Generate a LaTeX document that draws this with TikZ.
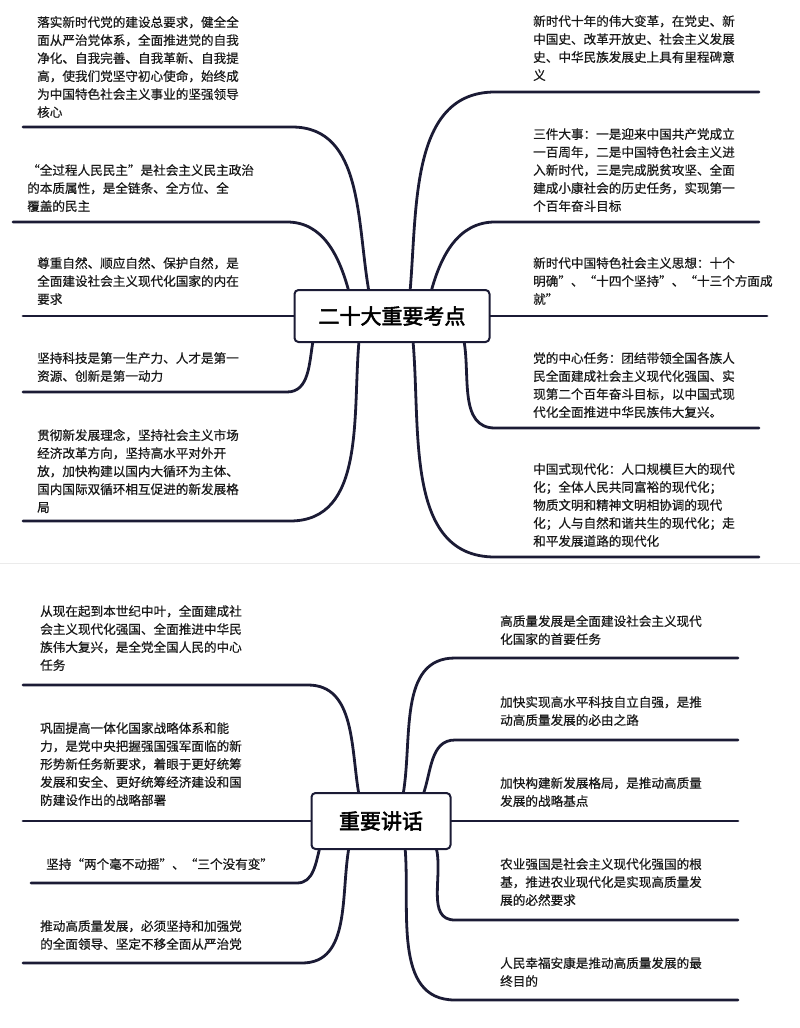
\documentclass[tikz,border=0pt]{standalone}
\usepackage{fontspec}
\newfontfamily\cjk{Noto Sans CJK SC}[AutoFakeBold=2.5]
\newfontfamily\cjkm{Noto Sans CJK SC}[FakeBold=0.6]
\definecolor{ink}{HTML}{1B1B35}
\tikzset{
  branch/.style={line width=2.8pt,ink,line cap=round},
  hub/.style={draw=ink,line width=2pt,rounded corners=4pt,fill=white,inner sep=0pt,
              font=\cjk\bfseries\fontsize{21}{24}\selectfont},
  note/.style={anchor=north west,inner sep=0pt,align=left,text=black!90,
               font=\cjkm\fontsize{12.6}{18}\selectfont}
}
\begin{document}
\begin{tikzpicture}[x=1pt,y=-1pt]
      \useasboundingbox (0,0) rectangle (800,1028);
      \draw[black!8,line width=1pt] (0,563)--(800,563);

      % first map
      \coordinate (l1) at (292,127); \coordinate (l2) at (287,222);
      \coordinate (l4) at (287,392); \coordinate (l5) at (290,521);
      \coordinate (r1) at (495,92);  \coordinate (r2) at (495,222);
      \coordinate (r4) at (495,428); \coordinate (r5) at (495,557);
      \draw[branch] (369,292) to[out=100,in=0] (l1) -- (23,127);
      \draw[branch] (349,292) to[out=105,in=0] (l2) -- (13,222);
      \draw[branch] (296,316) -- (23,316);
      \draw[branch] (313,341) to[out=-100,in=0] (l4) -- (23,392);
      \draw[branch] (359,341) to[out=-95,in=0] (l5) -- (23,521);
      \draw[branch] (410,292) to[out=85,in=180] (r1) -- (759,92);
      \draw[branch] (431,292) to[out=75,in=180] (r2) -- (759,222);
      \draw[branch] (489,316) -- (767,316);
      \draw[branch] (464,341) to[out=-80,in=180] (r4) -- (759,428);
      \draw[branch] (413,341) to[out=-85,in=180] (r5) -- (759,557);
      \node[hub,minimum width=195,minimum height=52] (kd) at (392,316) {二十大重要考点};

      \node[note] (kl1) at (37,16) {落实新时代党的建设总要求，健全全\\面从严治党体系，全面推进党的自我\\净化、自我完善、自我革新、自我提\\高，使我们党坚守初心使命，始终成\\为中国特色社会主义事业的坚强领导\\核心};
      \node[note] (kl2) at (27,164) {“全过程人民民主”是社会主义民主政治\\的本质属性，是全链条、全方位、全\\覆盖的民主};
      \node[note] (kl3) at (37,257) {尊重自然、顺应自然、保护自然，是\\全面建设社会主义现代化国家的内在\\要求};
      \node[note] (kl4) at (37,352) {坚持科技是第一生产力、人才是第一\\资源、创新是第一动力};
      \node[note] (kl5) at (37,429) {贯彻新发展理念，坚持社会主义市场\\经济改革方向，坚持高水平对外开\\放，加快构建以国内大循环为主体、\\国内国际双循环相互促进的新发展格\\局};
      \node[note] (kr1) at (533,15) {新时代十年的伟大变革，在党史、新\\中国史、改革开放史、社会主义发展\\史、中华民族发展史上具有里程碑意\\义};
      \node[note] (kr2) at (533,128) {三件大事：一是迎来中国共产党成立\\一百周年，二是中国特色社会主义进\\入新时代，三是完成脱贫攻坚、全面\\建成小康社会的历史任务，实现第一\\个百年奋斗目标};
      \node[note] (kr3) at (533,257) {新时代中国特色社会主义思想：十个\\明确”、“十四个坚持”、“十三个方面成\\就”};
      \node[note] (kr4) at (533,352) {党的中心任务：团结带领全国各族人\\民全面建成社会主义现代化强国、实\\现第二个百年奋斗目标，以中国式现\\代化全面推进中华民族伟大复兴。};
      \node[note] (kr5) at (533,463) {中国式现代化：人口规模巨大的现代\\化；全体人民共同富裕的现代化；\\物质文明和精神文明相协调的现代\\化；人与自然和谐共生的现代化；走\\和平发展道路的现代化};

      % second map
      \coordinate (m1) at (308,685); \coordinate (m3) at (297,883);
      \coordinate (m4) at (302,963);
      \coordinate (n1) at (455,658); \coordinate (n2) at (455,740);
      \coordinate (n4) at (455,920); \coordinate (n5) at (455,1000);
      \draw[branch] (359,795) to[out=100,in=0] (m1) -- (23,685);
      \draw[branch] (313,821) -- (23,821);
      \draw[branch] (320,847) to[out=-105,in=0] (m3) -- (31,883);
      \draw[branch] (349,847) to[out=-100,in=0] (m4) -- (23,963);
      \draw[branch] (403,795) to[out=80,in=180] (n1) -- (738,658);
      \draw[branch] (423,795) to[out=70,in=180] (n2) -- (738,740);
      \draw[branch] (450,821) -- (738,821);
      \draw[branch] (436,847) to[out=-75,in=180] (n4) -- (738,920);
      \draw[branch] (405,847) to[out=-85,in=180] (n5) -- (738,1000);
      \node[hub,minimum width=139,minimum height=56] (jh) at (381,821) {重要讲话};

      \node[note] (jl1) at (40,605) {从现在起到本世纪中叶，全面建成社\\会主义现代化强国、全面推进中华民\\族伟大复兴，是全党全国人民的中心\\任务};
      \node[note] (jl2) at (40,722) {巩固提高一体化国家战略体系和能\\力，是党中央把握强国强军面临的新\\形势新任务新要求，着眼于更好统筹\\发展和安全、更好统筹经济建设和国\\防建设作出的战略部署};
      \node[note] (jl3) at (46,858) {坚持“两个毫不动摇”、“三个没有变”};
      \node[note] (jl4) at (40,920) {推动高质量发展，必须坚持和加强党\\的全面领导、坚定不移全面从严治党};
      \node[note] (jr1) at (500,615) {高质量发展是全面建设社会主义现代\\化国家的首要任务};
      \node[note] (jr2) at (500,696) {加快实现高水平科技自立自强，是推\\动高质量发展的必由之路};
      \node[note] (jr3) at (500,777) {加快构建新发展格局，是推动高质量\\发展的战略基点};
      \node[note] (jr4) at (500,858) {农业强国是社会主义现代化强国的根\\基，推进农业现代化是实现高质量发\\展的必然要求};
      \node[note] (jr5) at (500,957) {人民幸福安康是推动高质量发展的最\\终目的};
\end{tikzpicture}
\end{document}
